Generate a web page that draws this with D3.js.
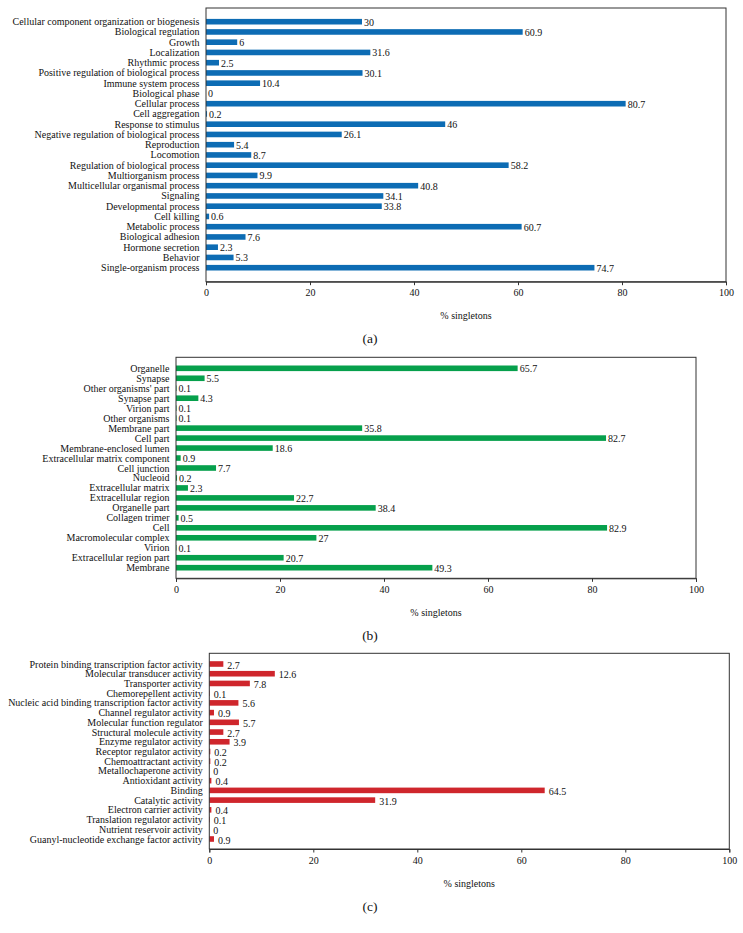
<!DOCTYPE html>
<html>
<head>
<meta charset="utf-8">
<script src="https://cdn.jsdelivr.net/npm/d3@7"></script>
<style>
  html, body { margin: 0; padding: 0; background: #fff; }
  svg { display: block; }
  text { font-family: "Liberation Serif", "Times New Roman", serif; fill: #111; }
</style>
</head>
<body>
<svg id="chart" width="743" height="933"></svg>
<script>
// ---------- DATA ----------
const catsA = [
  "Cellular component organization or biogenesis","Biological regulation","Growth","Localization",
  "Rhythmic process","Positive regulation of biological process","Immune system process","Biological phase",
  "Cellular process","Cell aggregation","Response to stimulus","Negative regulation of biological process",
  "Reproduction","Locomotion","Regulation of biological process","Multiorganism process",
  "Multicellular organismal process","Signaling","Developmental process","Cell killing",
  "Metabolic process","Biological adhesion","Hormone secretion","Behavior","Single-organism process"
];
const valsA = [30,60.9,6,31.6,2.5,30.1,10.4,0,80.7,0.2,46,26.1,5.4,8.7,58.2,9.9,40.8,34.1,33.8,0.6,60.7,7.6,2.3,5.3,74.7];

const catsB = [
  "Organelle","Synapse","Other organisms' part","Synapse part","Virion part","Other organisms",
  "Membrane part","Cell part","Membrane-enclosed lumen","Extracellular matrix component","Cell junction",
  "Nucleoid","Extracellular matrix","Extracellular region","Organelle part","Collagen trimer","Cell",
  "Macromolecular complex","Virion","Extracellular region part","Membrane"
];
const valsB = [65.7,5.5,0.1,4.3,0.1,0.1,35.8,82.7,18.6,0.9,7.7,0.2,2.3,22.7,38.4,0.5,82.9,27,0.1,20.7,49.3];

const catsC = [
  "Protein binding transcription factor activity","Molecular transducer activity","Transporter activity",
  "Chemorepellent activity","Nucleic acid binding transcription factor activity","Channel regulator activity",
  "Molecular function regulator","Structural molecule activity","Enzyme regulator activity",
  "Receptor regulator activity","Chemoattractant activity","Metallochaperone activity","Antioxidant activity",
  "Binding","Catalytic activity","Electron carrier activity","Translation regulator activity",
  "Nutrient reservoir activity","Guanyl-nucleotide exchange factor activity"
];
const valsC = [2.7,12.6,7.8,0.1,5.6,0.9,5.7,2.7,3.9,0.2,0.2,0,0.4,64.5,31.9,0.4,0.1,0,0.9];

const xTicks = [0,20,40,60,80,100];
const xTitle = "% singletons";
const panelLabels = ["(a)","(b)","(c)"];

// ---------- DRAW ----------
const svg = d3.select("#chart");
const FONT = '"Liberation Serif", "Times New Roman", serif';

function panel(cats, vals, cfg) {
  const g = svg.append("g");
  const x = d3.scaleLinear().domain([0,100]).range([cfg.left, cfg.right]);
  const y = d3.scalePoint().domain(cats).range([cfg.first, cfg.last]);
  const bh = 5.6;

  g.selectAll("rect.bar").data(cats).join("rect")
    .attr("class","bar")
    .attr("x", x(0))
    .attr("y", d => y(d) - bh/2)
    .attr("width", (d,i) => Math.max(0, x(vals[i]) - x(0)))
    .attr("height", bh)
    .attr("fill", cfg.color);

  g.selectAll("text.val").data(cats).join("text")
    .attr("class","val")
    .attr("x", (d,i) => x(vals[i]) + cfg.gap)
    .attr("y", d => y(d) + cfg.valDy)
    .attr("dominant-baseline","central")
    .attr("font-family", FONT)
    .attr("font-size", 10)
    .text((d,i) => vals[i]);

  g.selectAll("text.cat").data(cats).join("text")
    .attr("class","cat")
    .attr("x", cfg.left - 6.5)
    .attr("y", d => y(d))
    .attr("text-anchor","end")
    .attr("dominant-baseline","central")
    .attr("font-family", FONT)
    .attr("font-size", 10)
    .text(d => d);

  g.append("rect")
    .attr("x", cfg.left).attr("y", cfg.top)
    .attr("width", cfg.right - cfg.left).attr("height", cfg.axis - cfg.top)
    .attr("fill","none").attr("stroke","#333").attr("stroke-width",1);

  const ax = g.append("g").attr("transform", `translate(0,${cfg.axis})`)
    .call(d3.axisBottom(x).tickValues(xTicks).tickSize(3.5).tickPadding(4).tickFormat(d3.format("d")));
  ax.select(".domain").attr("stroke","#333");
  ax.selectAll(".tick line").attr("stroke","#333");
  ax.selectAll(".tick text")
    .attr("font-family", FONT)
    .attr("font-size", 10).attr("fill","#111");

  g.append("text")
    .attr("x", (cfg.left + cfg.right)/2)
    .attr("y", cfg.axis + 34)
    .attr("text-anchor","middle").attr("dominant-baseline","central")
    .attr("font-family", FONT)
    .attr("font-size", 10)
    .text(xTitle);

  g.append("text")
    .attr("x", 370)
    .attr("y", cfg.axis + 57)
    .attr("text-anchor","middle").attr("dominant-baseline","central")
    .attr("font-family", FONT)
    .attr("font-size", 13.5)
    .text(cfg.label);
}

panel(catsA, valsA, {left:206, right:726, top:8, axis:281.7, first:21.7, last:267.7,
  color:"#0d6cb4", gap:2, valDy:0.3, label:panelLabels[0]});
panel(catsB, valsB, {left:176, right:696, top:357.3, axis:578.3, first:368.3, last:567.7,
  color:"#06a04c", gap:2, valDy:0.3, label:panelLabels[1]});
panel(catsC, valsC, {left:209.3, right:729.3, top:653.3, axis:849, first:664, last:839,
  color:"#cf262c", gap:4, valDy:1, label:panelLabels[2]});
</script>
</body>
</html>
